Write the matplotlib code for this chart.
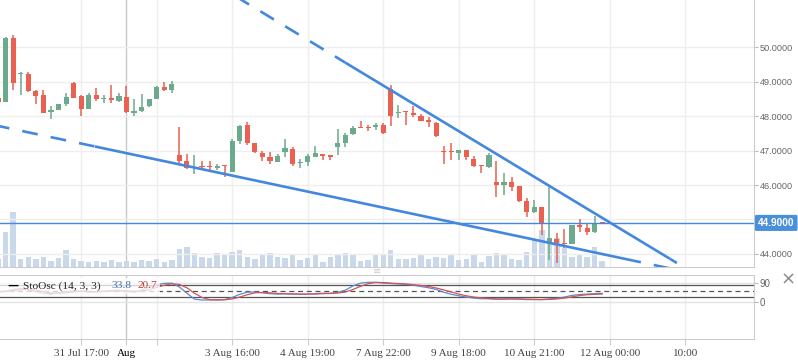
import numpy as np
import matplotlib
matplotlib.use('Agg')
import matplotlib.pyplot as plt
from matplotlib.transforms import blended_transform_factory

# ---------------- data ----------------
candle_idx = list(range(-1, 80))
opens = [48.52, 48.42, 50.28, 49.22, 49.22, 48.73, 48.62, 48.13, 48.18, 48.35,
         48.97, 48.59, 48.21, 48.61, 48.49, 48.52, 48.44, 48.55, 48.08, 48.15,
         48.28, 48.51, 48.85, 48.76, 46.87, 46.70, 46.49, 46.53, 46.53, 46.50,
         46.56, 46.39, 47.28, 47.74, 47.21, 46.93, 46.82, 46.67, 46.96, 47.05,
         46.63, 46.67, 46.82, 46.90, 46.87, 47.11, 47.23, 47.48, 47.67, 47.67,
         47.67, 47.74, 48.78, 48.08, 48.13, 48.10, 48.01, 47.86, 47.81, 46.98,
         46.97, 46.94, 47.02, 46.76, 46.56, 46.53, 46.09, 46.00, 46.09, 45.97,
         45.54, 45.23, 45.36, 44.36, 44.44, 44.30, 44.29, 44.84, 44.75, 44.65,
         44.92]
highs = [48.55, 50.31, 50.34, 49.29, 49.27, 48.76, 48.76, 48.28, 48.36, 48.66,
         49.00, 48.61, 48.68, 48.81, 48.62, 48.91, 48.66, 48.86, 48.49, 48.64,
         48.51, 48.86, 48.99, 49.02, 47.68, 46.90, 46.86, 46.70, 46.70, 46.60,
         46.57, 47.33, 47.74, 47.84, 47.23, 46.99, 46.96, 46.90, 47.34, 47.11,
         46.76, 46.90, 47.14, 46.91, 46.88, 47.63, 47.50, 47.70, 47.86, 47.74,
         47.79, 47.79, 48.89, 48.32, 48.15, 48.29, 48.06, 47.96, 47.84, 47.13,
         47.23, 47.03, 47.03, 46.84, 46.57, 46.94, 46.70, 46.34, 46.24, 45.98,
         45.62, 45.57, 45.37, 45.94, 44.61, 44.72, 44.85, 45.01, 44.89, 45.10,
         44.92]
lows = [48.40, 48.42, 48.76, 48.62, 48.70, 48.35, 48.10, 47.92, 48.17, 48.28,
        48.52, 48.01, 48.20, 48.44, 48.39, 48.39, 48.42, 48.10, 47.99, 48.13,
        48.27, 48.50, 48.74, 48.68, 46.65, 46.47, 46.31, 46.44, 46.42, 46.44,
        46.24, 46.37, 47.19, 47.16, 46.92, 46.70, 46.61, 46.66, 46.82, 46.55,
        46.49, 46.56, 46.81, 46.73, 46.73, 46.88, 47.11, 47.45, 47.65, 47.58,
        47.60, 47.49, 47.72, 47.94, 47.74, 47.97, 47.86, 47.68, 47.38, 46.61,
        46.73, 46.73, 46.73, 46.52, 46.34, 46.49, 45.64, 45.71, 45.83, 45.52,
        45.08, 45.18, 44.55, 43.81, 43.75, 44.17, 44.28, 44.65, 44.55, 44.62,
        44.90]
closes = [48.42, 50.28, 48.97, 49.26, 48.73, 48.57, 48.10, 48.16, 48.35, 48.55,
          48.53, 48.21, 48.62, 48.50, 48.51, 48.47, 48.57, 48.12, 48.16, 48.26,
          48.50, 48.85, 48.77, 48.94, 46.70, 46.50, 46.52, 46.51, 46.51, 46.56,
          46.54, 47.28, 47.72, 47.23, 46.95, 46.82, 46.70, 46.84, 47.07, 46.62,
          46.65, 46.83, 46.93, 46.84, 46.82, 47.23, 47.45, 47.66, 47.65, 47.65,
          47.74, 47.50, 48.01, 48.11, 48.11, 48.03, 47.87, 47.84, 47.43, 46.96,
          46.95, 47.02, 46.80, 46.56, 46.54, 46.87, 46.00, 46.09, 45.95, 45.54,
          45.23, 45.36, 44.89, 44.46, 44.31, 44.28, 44.84, 44.79, 44.65, 44.91,
          44.90]
volumes = [8, 35, 55, 8, 10, 8, 10, 6, 9, 17,
           8, 6, 5, 6, 5, 7, 5, 6, 5, 7,
           6, 8, 5, 7, 18, 20, 14, 10, 9, 14,
           12, 15, 17, 10, 8, 13, 14, 10, 9, 12,
           7, 9, 12, 5, 10, 13, 14, 13, 6, 7,
           12, 12, 17, 8, 8, 9, 12, 8, 10, 9,
           12, 7, 8, 12, 5, 11, 14, 12, 8, 7,
           15, 27, 37, 27, 29, 19, 10, 12, 10, 20,
           6]
stoch_k = [45, 50, 58, 62, 55, 48, 40, 38, 42, 48,
           52, 50, 45, 47, 50, 52, 55, 48, 45, 55,
           68, 80, 87, 88, 70, 40, 12, 8, 8, 9,
           10, 20, 35, 45, 46, 42, 38, 36, 38, 36,
           35, 36, 38, 40, 40, 44, 55, 75, 88, 92,
           92, 88, 86, 84, 82, 78, 72, 66, 58, 45,
           35, 28, 22, 17, 14, 14, 12, 12, 14, 12,
           10, 10, 10, 13, 16, 22, 30, 34, 36, 38,
           40]
stoch_d = [48, 48, 52, 57, 58, 55, 48, 42, 40, 42,
           47, 50, 49, 47, 48, 50, 52, 52, 50, 50,
           56, 68, 78, 85, 82, 66, 40, 20, 10, 8,
           9, 13, 22, 33, 42, 44, 42, 39, 37, 37,
           36, 36, 36, 38, 39, 41, 46, 58, 73, 85,
           91, 91, 88, 86, 84, 81, 77, 72, 65, 56,
           46, 36, 28, 22, 18, 15, 13, 13, 13, 13,
           12, 11, 10, 11, 13, 17, 23, 29, 33, 35,
           36]

x_ticks = [10, 16, 20, 30, 40, 50, 60, 70, 80, 90]
x_labels = ['31 Jul 17:00', 'Aug', '', '3 Aug 16:00', '4 Aug 19:00', '7 Aug 22:00',
            '9 Aug 18:00', '10 Aug 21:00', '12 Aug 00:00', '10:00']
price_ticks = [44, 45, 46, 47, 48, 49, 50]
price_labels = ['44.0000', '', '46.0000', '47.0000', '48.0000', '49.0000', '50.0000']
last_price = 44.90
upper_trend = [(44.95, 49.556), (87.99, 43.855)]
lower_trend = [(11.83, 47.118), (83.09, 43.806)]
stoch_bands = [20, 50, 80]
stoch_ticks = [0, 90]
stoch_legend = ('StoOsc (14, 3, 3)', '33.8', '20.7')

# ---------------- style ----------------
W, H = 798, 363
GREEN = '#6baa8c'
RED = '#ea6152'
BLUE = '#4387de'
VOLC = '#cad8eb'
GRID = '#eeeeee'
XMIN, XMAX = -0.75, 99.1
PMIN, PMAX = 43.62, 51.37

fig = plt.figure(figsize=(W / 100, H / 100), dpi=100)
ax = fig.add_axes([0, (H - 267) / H, 754 / W, 267 / H])
axv = ax.twinx()
ax2 = fig.add_axes([0, (H - 339) / H, 754 / W, (339 - 275) / H])

x = np.array(candle_idx)
o = np.array(opens); c = np.array(closes)
hi = np.array(highs); lo = np.array(lows)
up = c >= o
cols = np.where(up, GREEN, RED)

# volume
axv.bar(x, volumes, width=0.72, color=VOLC, zorder=1)
axv.set_ylim(0, 267)
axv.set_yticks([])
for s in axv.spines.values():
    s.set_visible(False)
ax.set_zorder(axv.get_zorder() + 1)
ax.patch.set_visible(False)
axv.patch.set_facecolor('white')

# grid
for t in price_ticks:
    ax.axhline(t, color=GRID, lw=1, zorder=0)
for t in x_ticks:
    gc = '#c8c8c8' if t == 16 else GRID
    axv.axvline(t, color=gc, lw=1, zorder=0)
    ax2.axvline(t, color=gc, lw=1, zorder=0)

# candles
ax.vlines(x, lo, hi, colors=cols, lw=1.1, zorder=3)
body_lo = np.minimum(o, c)
body_h = np.maximum(np.abs(c - o), 0.04)
ax.bar(x, body_h, bottom=body_lo, width=0.68, color=cols, zorder=4, linewidth=0)

# trend lines
def draw_trend(pts):
    (x1, y1), (x2, y2) = pts
    m = (y2 - y1) / (x2 - x1)
    ax.plot([x1, x2], [y1, y2], color=BLUE, lw=1.9, zorder=5, solid_capstyle='butt')
    ax.plot([XMIN - 1, x1], [y1 + m * (XMIN - 1 - x1), y1], color=BLUE, lw=1.9,
            linestyle=(2, (6, 5)), zorder=5)
    ax.plot([x2, XMAX + 1], [y2, y2 + m * (XMAX + 1 - x2)], color=BLUE, lw=1.9,
            linestyle=(3, (6, 5)), zorder=5)

draw_trend(upper_trend)
draw_trend(lower_trend)

# last price
ax.axhline(last_price, color=BLUE, lw=1, zorder=5)
tr = blended_transform_factory(ax.transAxes, ax.transData)
ax.text(1.0 + 4 / 754, last_price, f'{last_price:.4f}', transform=tr, ha='left', va='center',
        color='white', fontsize=7.3, fontweight='bold', family='Liberation Sans',
        bbox=dict(boxstyle='round,pad=0.3,rounding_size=0.15', fc='#4a8fd9', ec='none'),
        zorder=10, clip_on=False)

ax.set_xlim(XMIN, XMAX)
ax.set_ylim(PMIN, PMAX)
ax.yaxis.tick_right()
ax.set_yticks(price_ticks)
ax.set_yticklabels(price_labels)
ax.tick_params(axis='y', labelsize=6.6, labelcolor='#666666', color='#bbbbbb', length=3, pad=1)
for lab in ax.get_yticklabels():
    lab.set_family('Liberation Sans')
ax.set_xticks([])
for k in ['left', 'top']:
    ax.spines[k].set_visible(False)
for k in ['right', 'bottom']:
    ax.spines[k].set_color('#cccccc')

# ---------------- oscillator ----------------
ax2.set_xlim(XMIN, XMAX)
ax2.set_ylim(-176.8, 126.5)
ax2.axhline(0, color='#e4e4e4', lw=1, zorder=0)
ax2.axhline(90, color='#e4e4e4', lw=1, zorder=0)
for b in stoch_bands:
    if b == 50:
        ax2.axhline(b, color='#555555', lw=0.9, linestyle=(0, (4, 3)), zorder=2)
    else:
        ax2.axhline(b, color='#555555', lw=0.9, zorder=2)
ax2.plot(x, stoch_k, color='#5b8bd0', lw=0.9, zorder=3)
ax2.plot(x, stoch_d, color='#d05555', lw=0.9, zorder=3)
ax2.yaxis.tick_right()
ax2.set_yticks(stoch_ticks)
ax2.set_yticklabels([str(t) for t in stoch_ticks])
ax2.tick_params(axis='y', labelsize=7, labelcolor='#666666', color='#bbbbbb', length=3, pad=1)
for lab in ax2.get_yticklabels():
    lab.set_family('Liberation Sans')
ax2.set_xticks(x_ticks)
ax2.set_xticklabels(x_labels)
ax2.tick_params(axis='x', labelsize=8, labelcolor='#444444', color='#cccccc', length=4, pad=3)
for lab in ax2.get_xticklabels():
    lab.set_family('Liberation Serif')
    if lab.get_text() == 'Aug':
        lab.set_color('black')
ax2.spines['left'].set_visible(False)
for k in ['right', 'bottom', 'top']:
    ax2.spines[k].set_color('#cccccc')

# legend of oscillator
fig.patches.append(plt.Rectangle((0, 1 - 294 / H), 160 / W, 16 / H, transform=fig.transFigure,
                                 fc='white', ec='none', alpha=0.75, zorder=20))
fig.text(7 / W, 1 - 286 / H, '\u2014', fontsize=8, color='black', fontweight='bold',
         va='center', ha='left', family='DejaVu Sans', zorder=21)
fig.text(23 / W, 1 - 286 / H, stoch_legend[0], fontsize=8.2, color='#222222',
         va='center', ha='left', family='Liberation Serif', zorder=21)
fig.text(111 / W, 1 - 286 / H, stoch_legend[1], fontsize=8.2, color='#3d6fb6',
         va='center', ha='left', family='Liberation Serif', zorder=21)
fig.text(138 / W, 1 - 286 / H, stoch_legend[2], fontsize=8.2, color='#c23b3b',
         va='center', ha='left', family='Liberation Serif', zorder=21)

# panel handle and close icon
fig.text(377 / W, 1 - 271 / H, '\u2261', fontsize=7, color='#cccccc', ha='center', va='center')
fig.text(788 / W, 1 - 280 / H, '\u00d7', fontsize=13, color='#888888', ha='center', va='center',
         family='DejaVu Sans')

fig.savefig('out.png', dpi=100)
